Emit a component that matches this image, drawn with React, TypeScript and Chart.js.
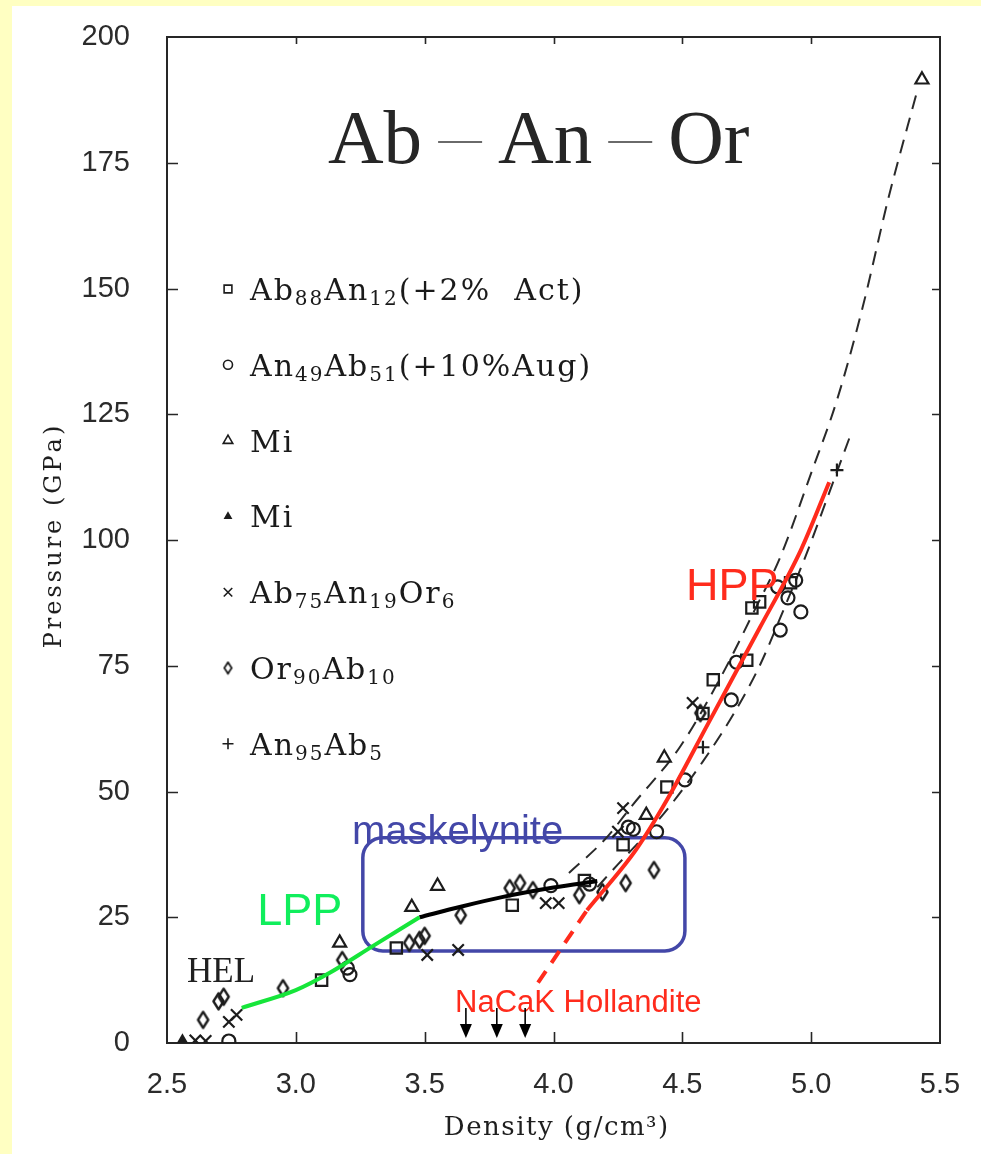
import React, { useEffect, useRef } from 'react';
import { Chart, registerables } from 'chart.js';
import { drawPoint } from 'chart.js/helpers';

Chart.register(...registerables);

type Pt = [number, number];

const W = 981;
const H = 1154;

// Axis ticks
const densityTicks = [2.5, 3.0, 3.5, 4.0, 4.5, 5.0, 5.5];
const pressureTicks = [0, 25, 50, 75, 100, 125, 150, 175, 200];

// Hugoniot data, [density g/cm3, pressure GPa]
const ab88An12: Pt[] = [
  [3.1, 12.5], [3.39, 18.9], [3.84, 27.4], [4.12, 32.3], [4.27, 39.4], [4.44, 50.9],
  [4.58, 65.5], [4.62, 72.2], [4.75, 76.1], [4.77, 86.5], [4.8, 87.7], [4.92, 91.5],
];
const an49Ab51: Pt[] = [
  [2.74, 0.4], [3.2, 14.9], [3.21, 13.6], [3.99, 31.3], [4.14, 31.6], [4.29, 42.9],
  [4.31, 42.5], [4.4, 42.0], [4.51, 52.3], [4.69, 68.2], [4.71, 75.7], [4.87, 90.7],
  [4.94, 92.0], [4.91, 88.5], [4.96, 85.7], [4.88, 82.1],
];
const miOpen: Pt[] = [
  [3.17, 19.9], [3.45, 27.0], [3.55, 31.2], [4.36, 45.3], [4.43, 56.7], [5.43, 191.5],
];
const miSmall: Pt[] = [
  [2.56, 0.6],
];
const ab75An19Or6: Pt[] = [
  [2.61, 0.5], [2.65, 0.4], [2.74, 4.2], [2.77, 5.6], [3.51, 17.5], [3.63, 18.5],
  [3.97, 27.8], [4.02, 27.8], [4.25, 42.0], [4.27, 46.7], [4.54, 67.6],
];
const or90Ab10: Pt[] = [
  [2.64, 4.6], [2.7, 8.3], [2.72, 9.2], [2.95, 10.9], [3.18, 16.5], [3.44, 19.9],
  [3.48, 20.5], [3.5, 21.3], [3.64, 25.4], [3.83, 30.8], [3.87, 31.8], [3.92, 30.4],
  [4.1, 29.4], [4.19, 30.0], [4.28, 31.8], [4.39, 34.4], [4.57, 65.6],
];
const an95Ab5: Pt[] = [
  [4.58, 58.8], [5.1, 113.9],
];

// Fitted curves
const upperFit: Pt[] = [
  [4.06, 33.8], [4.2, 40.5], [4.31, 47.5], [4.49, 58.8], [4.65, 72.8], [4.78, 86.0],
  [4.88, 96.6], [5.0, 113.3], [5.1, 127.8], [5.2, 146.3], [5.3, 168.0], [5.41, 189.0],
];
const lowerFit: Pt[] = [
  [4.17, 31.0], [4.25, 35.5], [4.35, 41.0], [4.45, 47.0], [4.58, 56.0], [4.7, 65.5],
  [4.8, 75.0], [4.9, 87.0], [4.98, 97.0], [5.06, 108.0], [5.15, 120.5],
];
const lppCurve: Pt[] = [[2.79, 7.0], [3.0, 10.5], [3.13, 13.9], [3.3, 19.3], [3.48, 25.0]];
const maskelyniteCurve: Pt[] = [[3.48, 25.0], [3.64, 27.1], [3.8, 29.0], [4.0, 30.9], [4.17, 32.2]];
const hppCurve: Pt[] = [
  [4.13, 26.4], [4.32, 38.4], [4.44, 48.3], [4.6, 63.5], [4.8, 82.5], [4.96, 98.0], [5.07, 111.5],
];
const hollanditeExtension: Pt[] = [[3.94, 12.0], [4.13, 26.4]];

// Maskelynite field bounds (density, pressure)
const maskelyniteBoxX = [3.26, 4.51];
const maskelyniteBoxY = [18.3, 40.8];
// NaCaK hollandite densities
const hollanditeDensities = [3.66, 3.78, 3.89];

// Title components (joined by rules)
const titleParts = ['Ab', 'An', 'Or'];

const INK = '#1c1c1c';
const RED = '#FF2B1C';
const GREEN_LINE = '#16E53A';
const GREEN_TEXT = '#10EE5C';
const BLUE = '#4347A8';

const SERIF = '"DejaVu Serif", serif';
const SUB = '₀₁₂₃₄₅₆₇₈₉';

const toXY = (pts: Pt[]) => pts.map(([x, y]) => ({ x, y }));

function makeDiamond(w: number, h: number, lw: number) {
  const c = document.createElement('canvas');
  c.width = Math.ceil(w + lw * 2);
  c.height = Math.ceil(h + lw * 2);
  const g = c.getContext('2d')!;
  g.strokeStyle = INK;
  g.lineWidth = lw;
  g.lineJoin = 'round';
  const cx = c.width / 2;
  const cy = c.height / 2;
  g.beginPath();
  g.moveTo(cx, lw);
  g.quadraticCurveTo(cx + w * 0.28, cy - h * 0.22, c.width - lw, cy);
  g.quadraticCurveTo(cx + w * 0.28, cy + h * 0.22, cx, c.height - lw);
  g.quadraticCurveTo(cx - w * 0.28, cy + h * 0.22, lw, cy);
  g.quadraticCurveTo(cx - w * 0.28, cy - h * 0.22, cx, lw);
  g.closePath();
  g.stroke();
  return c;
}

function drawSpaced(ctx: CanvasRenderingContext2D, text: string, x: number, y: number, spacing: number) {
  let cx = x;
  for (const ch of text) {
    ctx.fillText(ch, cx, y);
    cx += ctx.measureText(ch).width + spacing;
  }
}
function spacedWidth(ctx: CanvasRenderingContext2D, text: string, spacing: number) {
  let w = 0;
  for (const ch of text) w += ctx.measureText(ch).width + spacing;
  return w - spacing;
}

// Label with subscript digits rendered smaller and lowered
function drawFormula(ctx: CanvasRenderingContext2D, label: string, x: number, baseline: number, size: number) {
  let cx = x;
  for (const ch of label) {
    const k = SUB.indexOf(ch);
    if (k >= 0) {
      ctx.font = `${Math.round(size * 0.68)}px ${SERIF}`;
      const d = String(k);
      ctx.fillText(d, cx, baseline + size * 0.17);
      cx += ctx.measureText(d).width + 2;
    } else {
      ctx.font = `${size}px ${SERIF}`;
      ctx.fillText(ch, cx, baseline);
      cx += ctx.measureText(ch).width + 2;
    }
  }
}

export default function App() {
  const ref = useRef<HTMLCanvasElement>(null);

  useEffect(() => {
    document.body.style.margin = '0';
    document.body.style.background = '#FFFFC2';
    const canvas = ref.current!;

    const diamondBig = makeDiamond(10, 16, 2.4);
    const diamondSmall = makeDiamond(7, 11, 1.8);

    const markerSeries = [
      { label: 'Ab₈₈An₁₂(+2%  Act)', data: ab88An12, style: 'rect', r: 8, lr: 5.5, fill: false },
      { label: 'An₄₉Ab₅₁(+10%Aug)', data: an49Ab51, style: 'circle', r: 6.5, lr: 4.5, fill: false },
      { label: 'Mi', data: miOpen, style: 'triangle', r: 7.5, lr: 5.5, fill: false },
      { label: 'Mi', data: miSmall, style: 'triangle', r: 4.5, lr: 3.5, fill: true },
      { label: 'Ab₇₅An₁₉Or₆', data: ab75An19Or6, style: 'crossRot', r: 8, lr: 6, fill: false },
      { label: 'Or₉₀Ab₁₀', data: or90Ab10, style: 'diamond', r: 8, lr: 5, fill: false },
      { label: 'An₉₅Ab₅', data: an95Ab5, style: 'cross', r: 6.5, lr: 5.5, fill: false },
    ];

    const markerDatasets = markerSeries.map((s) => ({
      label: s.label,
      data: toXY(s.data),
      showLine: false,
      pointStyle: s.style === 'diamond' ? diamondBig : s.style,
      pointRadius: s.r,
      pointBorderColor: INK,
      pointBackgroundColor: s.fill ? INK : 'rgba(0,0,0,0)',
      pointBorderWidth: 2.2,
      order: 1,
    }));

    const lineDataset = (label: string, pts: Pt[], color: string, width: number, dash: number[], order: number) => ({
      label,
      data: toXY(pts),
      showLine: true,
      pointRadius: 0,
      borderColor: color,
      borderWidth: width,
      borderDash: dash,
      borderCapStyle: 'butt',
      cubicInterpolationMode: 'monotone',
      fill: false,
      order,
    });

    const frameAndBox = {
      id: 'frameAndBox',
      beforeDraw(chart: any) {
        const { ctx } = chart;
        ctx.save();
        ctx.fillStyle = '#FFFFC2';
        ctx.fillRect(0, 0, W, H);
        ctx.fillStyle = '#ffffff';
        ctx.fillRect(12, 6, W - 12, H - 6);
        ctx.restore();
      },
      beforeDatasetsDraw(chart: any) {
        const { ctx, chartArea: a, scales } = chart;
        const x = scales.x;
        const y = scales.y;
        ctx.save();
        ctx.strokeStyle = '#262626';
        ctx.lineWidth = 2;
        ctx.strokeRect(a.left, a.top, a.right - a.left, a.bottom - a.top);
        ctx.lineWidth = 1.6;
        ctx.beginPath();
        for (const v of densityTicks.slice(1, -1)) {
          const px = Math.round(x.getPixelForValue(v)) + 0.5;
          ctx.moveTo(px, a.bottom);
          ctx.lineTo(px, a.bottom - 11);
          ctx.moveTo(px, a.top);
          ctx.lineTo(px, a.top + 7);
        }
        for (const v of pressureTicks.slice(1, -1)) {
          const py = Math.round(y.getPixelForValue(v)) + 0.5;
          ctx.moveTo(a.left, py);
          ctx.lineTo(a.left + 11, py);
          ctx.moveTo(a.right, py);
          ctx.lineTo(a.right - 8, py);
        }
        ctx.stroke();

        // maskelynite field
        const bx0 = x.getPixelForValue(maskelyniteBoxX[0]);
        const bx1 = x.getPixelForValue(maskelyniteBoxX[1]);
        const by0 = y.getPixelForValue(maskelyniteBoxY[1]);
        const by1 = y.getPixelForValue(maskelyniteBoxY[0]);
        ctx.strokeStyle = BLUE;
        ctx.lineWidth = 3.5;
        ctx.beginPath();
        ctx.roundRect(bx0, by0, bx1 - bx0, by1 - by0, 20);
        ctx.stroke();
        ctx.restore();
      },
      afterDatasetsDraw(chart: any) {
        const { ctx, chartArea: a, scales } = chart;
        const x = scales.x;
        const y = scales.y;
        const X = (v: number) => x.getPixelForValue(v);
        const Y = (v: number) => y.getPixelForValue(v);
        ctx.save();
        ctx.textBaseline = 'alphabetic';
        ctx.textAlign = 'left';

        // Title: components separated by thin rules
        ctx.fillStyle = '#262626';
        ctx.font = '77px "Liberation Serif", serif';
        const titleBase = a.top + 126;
        const ruleGap = 16;
        const ruleLen = 44;
        let tx0 = a.left + 161;
        titleParts.forEach((p, i) => {
          ctx.fillText(p, tx0, titleBase);
          tx0 += ctx.measureText(p).width;
          if (i < titleParts.length - 1) {
            ctx.strokeStyle = '#6a6a6a';
            ctx.lineWidth = 2;
            ctx.beginPath();
            ctx.moveTo(tx0 + ruleGap, titleBase - 21);
            ctx.lineTo(tx0 + ruleGap + ruleLen, titleBase - 21);
            ctx.stroke();
            tx0 += ruleGap * 2 + ruleLen;
          }
        });

        // Region labels
        ctx.fillStyle = BLUE;
        ctx.font = '40px "Liberation Sans", Arial, sans-serif';
        ctx.fillText('maskelynite', X(3.218), Y(39.6));
        ctx.fillStyle = GREEN_TEXT;
        ctx.font = '45px "Liberation Sans", Arial, sans-serif';
        ctx.fillText('LPP', X(2.85), Y(23.5));
        ctx.fillStyle = RED;
        ctx.fillText('HPP', X(4.514), Y(88.1));
        ctx.font = '31px "Liberation Sans", Arial, sans-serif';
        ctx.fillText('NaCaK Hollandite', X(3.618), Y(6.2));
        ctx.fillStyle = '#202020';
        ctx.font = '35px "Liberation Serif", serif';
        ctx.fillText('HEL', X(2.578), Y(12.1));

        // Hollandite density arrows
        ctx.strokeStyle = '#000';
        ctx.fillStyle = '#000';
        ctx.lineWidth = 1.6;
        for (const d of hollanditeDensities) {
          const px = X(d);
          const tip = a.bottom - 5;
          ctx.beginPath();
          ctx.moveTo(px, a.bottom - 35);
          ctx.lineTo(px, tip - 10);
          ctx.stroke();
          ctx.beginPath();
          ctx.moveTo(px - 6, tip - 14);
          ctx.lineTo(px + 6, tip - 14);
          ctx.lineTo(px, tip);
          ctx.closePath();
          ctx.fill();
        }

        // Legend
        markerSeries.forEach((s, i) => {
          const cy = a.top + 252 + i * 75.8;
          const mx = a.left + 61;
          ctx.strokeStyle = INK;
          ctx.fillStyle = s.fill ? INK : 'rgba(0,0,0,0)';
          drawPoint(ctx, {
            pointStyle: s.style === 'diamond' ? diamondSmall : s.style,
            radius: s.lr,
            rotation: 0,
            borderWidth: 1.8,
          } as any, mx, cy);
          ctx.fillStyle = '#1a1a1a';
          drawFormula(ctx, s.label, a.left + 83, cy + 11, 30);
        });

        // Axis titles
        ctx.fillStyle = '#1e1e1e';
        ctx.font = `26px ${SERIF}`;
        const tx = 'Density (g/cm³)';
        const txw = spacedWidth(ctx, tx, 1.5);
        drawSpaced(ctx, tx, 556 - txw / 2, 1135, 1.5);

        ctx.font = `24px ${SERIF}`;
        const ty = 'Pressure (GPa)';
        const tyw = spacedWidth(ctx, ty, 3);
        ctx.translate(61, 537);
        ctx.rotate(-Math.PI / 2);
        drawSpaced(ctx, ty, -tyw / 2, 0, 3);
        ctx.restore();
      },
    };

    const chart = new Chart(canvas, {
      type: 'scatter',
      data: {
        datasets: [
          lineDataset('LPP', lppCurve, GREEN_LINE, 4, [], 0),
          lineDataset('maskelynite', maskelyniteCurve, '#000000', 4, [], 0),
          lineDataset('HPP', hppCurve, RED, 4, [], 0),
          lineDataset('NaCaK hollandite', hollanditeExtension, RED, 4, [14, 10], 0),
          ...markerDatasets,
          lineDataset('fit upper', upperFit, '#2a2a2a', 2, [14, 9], 2),
          lineDataset('fit lower', lowerFit, '#2a2a2a', 2, [14, 9], 2),
        ] as any,
      },
      options: {
        responsive: false,
        animation: false,
        events: [],
        layout: { padding: { top: 37, right: 41, left: 0, bottom: 0 } },
        plugins: { legend: { display: false }, tooltip: { enabled: false } },
        scales: {
          x: {
            type: 'linear',
            min: 2.5,
            max: 5.5,
            afterBuildTicks: (s: any) => { s.ticks = densityTicks.map((value) => ({ value })); },
            afterFit: (s: any) => { s.height = H - 1043; },
            // tick marks are hidden; their length only offsets the labels from the axis
            grid: { display: false, drawTicks: true, tickLength: 25 },
            border: { display: false },
            ticks: {
              padding: 0,
              color: '#2b2b2b',
              font: { family: '"Liberation Sans", Arial, sans-serif', size: 29 },
              maxRotation: 0,
              callback: (v: any) => Number(v).toFixed(1),
            },
          },
          y: {
            type: 'linear',
            min: 0,
            max: 200,
            afterBuildTicks: (s: any) => { s.ticks = pressureTicks.map((value) => ({ value })); },
            afterFit: (s: any) => { s.width = 167; },
            grid: { display: false, drawTicks: true, tickLength: 37 },
            border: { display: false },
            ticks: {
              padding: 0,
              color: '#2b2b2b',
              font: { family: '"Liberation Sans", Arial, sans-serif', size: 29 },
              callback: (v: any) => String(v),
            },
          },
        },
      },
      plugins: [frameAndBox],
    } as any);

    return () => chart.destroy();
  }, []);

  return <canvas ref={ref} width={W} height={H} style={{ display: 'block', width: W, height: H }} />;
}
